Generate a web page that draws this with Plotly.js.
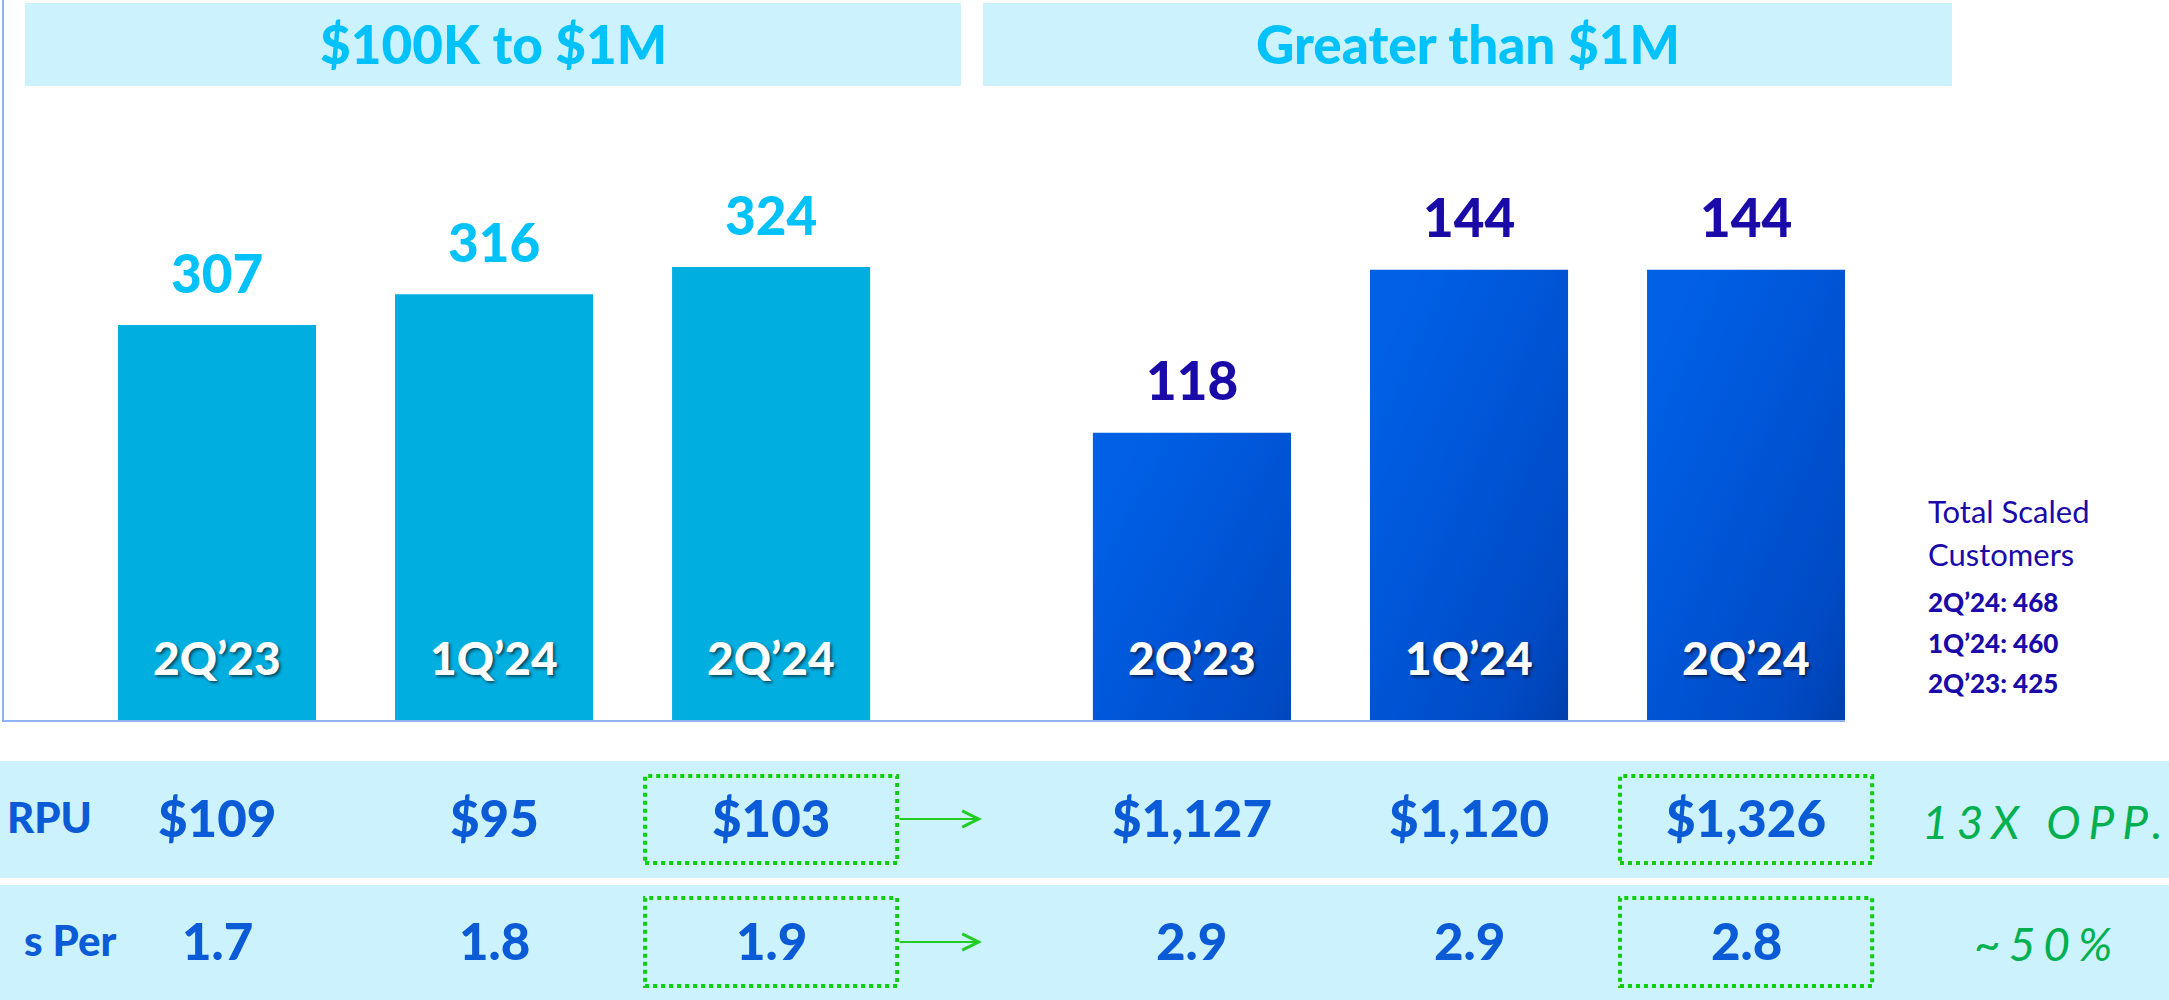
<!DOCTYPE html>
<html>
<head>
<meta charset="utf-8">
<script src="https://cdn.plot.ly/plotly-3.0.1.min.js"></script>
<style>
  html, body { margin: 0; padding: 0; background: #ffffff; }
  #chart { width: 2169px; height: 1000px; }
</style>
</head>
<body>
<div id="chart"></div>
<script>
// ---------------- data ----------------
const groupTitles = ["$100K to $1M", "Greater than $1M"];
const periods = ["2Q’23", "1Q’24", "2Q’24"];
const midCustomers = [307, 316, 324];
const largeCustomers = [118, 144, 144];
const arpuMid = ["$109", "$95", "$103"];
const arpuLarge = ["$1,127", "$1,120", "$1,326"];
const perMid = ["1.7", "1.8", "1.9"];
const perLarge = ["2.9", "2.9", "2.8"];
const rowLabels = ["RPU", "s Per"];
const rowNotes = ["13X OPP.", "~50%"];
const totalTitle = ["Total Scaled", "Customers"];
const totalPeriods = ["2Q’24", "1Q’24", "2Q’23"];
const totalValues = [468, 460, 425];

// ---------------- helpers ----------------
const W = 2169, H = 1000;
const px = v => v / W;          // pixel -> paper x
const py = v => 1 - v / H;      // pixel -> paper y
const FONT = "Lato, 'Open Sans', sans-serif";
const cyanText = "#00c2fa";
const navy = "#1a0aa8";
const tableBlue = "#0b5ad6";
const green = "#00b050";
const boxGreen = "#11cc11";
const band = "#ccf2fe";
const axisLine = "#8fb3f5";

// axis geometry (pixels / category units)
const ax1 = { d: [4, 975], r: [-0.769, 2.736] };
const ax2 = { d: [975, 1845], r: [-0.783, 2.357] };
const catToPaper = (a, c) => px(a.d[0] + (c - a.r[0]) / (a.r[1] - a.r[0]) * (a.d[1] - a.d[0]));

const traces = [
  {
    type: "bar", x: periods, y: midCustomers, xaxis: "x", yaxis: "y",
    marker: { color: "#00aee0" }, hoverinfo: "x+y", showlegend: false
  },
  {
    type: "bar", x: periods, y: largeCustomers, xaxis: "x2", yaxis: "y2",
    marker: { color: "#0050d0" }, hoverinfo: "x+y", showlegend: false
  }
];

const shapes = [];
const annotations = [];

// header boxes
const headerBoxes = [[25, 961], [983, 1952]];
headerBoxes.forEach((b, i) => {
  shapes.push({ type: "rect", xref: "paper", yref: "paper", layer: "below",
    x0: px(b[0]), x1: px(b[1]), y0: py(86), y1: py(3),
    fillcolor: band, line: { width: 0 } });
  annotations.push({ xref: "paper", yref: "paper", x: px((b[0] + b[1]) / 2), y: py(43),
    text: groupTitles[i], showarrow: false, xanchor: "center", yanchor: "middle",
    font: { family: FONT, size: 53, color: cyanText, weight: 900 } });
});

// table bands
shapes.push({ type: "rect", xref: "paper", yref: "paper", layer: "below",
  x0: 0, x1: 1, y0: py(878), y1: py(761), fillcolor: band, line: { width: 0 } });
shapes.push({ type: "rect", xref: "paper", yref: "paper", layer: "below",
  x0: 0, x1: 1, y0: py(1000), y1: py(885), fillcolor: band, line: { width: 0 } });

// value labels above bars and period labels inside bars
const groups = [
  { xr: "x", yr: "y", ax: ax1, vals: midCustomers, color: cyanText, arpu: arpuMid, per: perMid },
  { xr: "x2", yr: "y2", ax: ax2, vals: largeCustomers, color: navy, arpu: arpuLarge, per: perLarge }
];
groups.forEach(g => {
  periods.forEach((p, i) => {
    annotations.push({ xref: g.xr, yref: g.yr, x: p, y: g.vals[i], yshift: 53,
      text: String(g.vals[i]), showarrow: false, yanchor: "middle",
      font: { family: FONT, size: 53, color: g.color, weight: 900 } });
    annotations.push({ xref: g.xr, yref: "paper", x: p, y: py(657),
      text: p, showarrow: false, yanchor: "middle",
      font: { family: FONT, size: 46, color: "#ffffff", weight: 900,
              shadow: "2px 2px 3px rgba(0,0,0,0.55)" } });
    annotations.push({ xref: g.xr, yref: "paper", x: p, y: py(817),
      text: g.arpu[i], showarrow: false, yanchor: "middle",
      font: { family: FONT, size: 51, color: tableBlue, weight: 900 } });
    annotations.push({ xref: g.xr, yref: "paper", x: p, y: py(940),
      text: g.per[i], showarrow: false, yanchor: "middle",
      font: { family: FONT, size: 51, color: tableBlue, weight: 900 } });
  });
  // dotted highlight boxes on the latest period
  const last = periods.length - 1;
  [[776, 863], [898, 986]].forEach(r => {
    shapes.push({ type: "rect", xref: "paper", yref: "paper",
      x0: catToPaper(g.ax, last - 0.455), x1: catToPaper(g.ax, last + 0.455),
      y0: py(r[1]), y1: py(r[0]),
      line: { color: boxGreen, width: 4, dash: "dot" }, fillcolor: "rgba(0,0,0,0)" });
  });
});

// arrows between the groups
[819, 942].forEach(yy => {
  annotations.push({ xref: "paper", yref: "paper", x: px(982), y: py(yy),
    ax: -84, ay: 0, text: "", showarrow: true, arrowhead: 5, arrowsize: 1.6,
    arrowwidth: 2, arrowcolor: "#22cc22" });
});

// row labels (at left edge)
[[94, 817], [118, 940]].forEach((pos, i) => {
  annotations.push({ xref: "paper", yref: "paper", x: px(pos[0]), y: py(pos[1]),
    text: rowLabels[i], showarrow: false, xanchor: "right", yanchor: "middle",
    font: { family: FONT, size: 42, color: tableBlue, weight: 900 } });
});

// right-hand notes
annotations.push({ xref: "paper", yref: "paper", x: px(2046), y: py(821),
  text: rowNotes[0], showarrow: false, xanchor: "center", yanchor: "middle",
  font: { family: FONT, size: 46, color: green, style: "italic", weight: 400 } });
annotations.push({ xref: "paper", yref: "paper", x: px(2047), y: py(943),
  text: rowNotes[1], showarrow: false, xanchor: "center", yanchor: "middle",
  font: { family: FONT, size: 46, color: green, style: "italic", weight: 400 } });

// total scaled customers block
totalTitle.forEach((t, i) => {
  annotations.push({ xref: "paper", yref: "paper", x: px(1926), y: py(511 + i * 43),
    text: t, showarrow: false, xanchor: "left", yanchor: "middle",
    font: { family: FONT, size: 31, color: navy, weight: 400 } });
});
totalPeriods.forEach((p, i) => {
  annotations.push({ xref: "paper", yref: "paper", x: px(1926), y: py(602 + i * 40.5),
    text: p + ": " + totalValues[i], showarrow: false, xanchor: "left", yanchor: "middle",
    font: { family: FONT, size: 26, color: navy, weight: 900 } });
});

const layout = {
  width: W, height: H,
  margin: { l: 0, r: 0, t: 0, b: 0, pad: 0 },
  paper_bgcolor: "#ffffff", plot_bgcolor: "rgba(0,0,0,0)",
  showlegend: false, bargap: 0.285,
  xaxis: { domain: [px(ax1.d[0]), px(ax1.d[1])], type: "category", range: ax1.r,
    showline: true, linecolor: axisLine, linewidth: 2, showticklabels: false,
    ticks: "", showgrid: false, zeroline: false, fixedrange: true },
  yaxis: { domain: [py(720), 1], range: [191.2, 402.3], anchor: "x",
    showline: true, linecolor: axisLine, linewidth: 2, showticklabels: false,
    ticks: "", showgrid: false, zeroline: false, fixedrange: true },
  xaxis2: { domain: [px(ax2.d[0]), px(ax2.d[1])], type: "category", range: ax2.r,
    anchor: "y2", showline: true, linecolor: axisLine, linewidth: 2,
    showticklabels: false, ticks: "", showgrid: false, zeroline: false, fixedrange: true },
  yaxis2: { domain: [py(720), 1], range: [72.2, 187.0], anchor: "x2",
    showline: false, showticklabels: false, ticks: "", showgrid: false,
    zeroline: false, fixedrange: true },
  shapes: shapes,
  annotations: annotations,
  font: { family: FONT }
};

Plotly.newPlot("chart", traces, layout, { staticPlot: true, displayModeBar: false }).then(gd => {
  const svg = gd.querySelector("svg.main-svg");
  const ns = "http://www.w3.org/2000/svg";
  let defs = svg.querySelector("defs");
  if (!defs) { defs = document.createElementNS(ns, "defs"); svg.insertBefore(defs, svg.firstChild); }
  const grad = document.createElementNS(ns, "linearGradient");
  grad.setAttribute("id", "rightGrad");
  grad.setAttribute("x1", "0.25"); grad.setAttribute("y1", "0");
  grad.setAttribute("x2", "0.75"); grad.setAttribute("y2", "1");
  [["0", "#0060e6"], ["0.55", "#004bc6"], ["1", "#00287c"]].forEach(s => {
    const st = document.createElementNS(ns, "stop");
    st.setAttribute("offset", s[0]); st.setAttribute("stop-color", s[1]);
    grad.appendChild(st);
  });
  defs.appendChild(grad);
  const barTraces = gd.querySelectorAll(".barlayer .trace");
  if (barTraces[1]) barTraces[1].querySelectorAll("path").forEach(p => { p.style.fill = "url(#rightGrad)"; });
  gd.querySelectorAll(".annotation-text").forEach(t => {
    if (rowNotes.indexOf(t.textContent) >= 0) t.style.letterSpacing = "8px";
  });
});
</script>
</body>
</html>
